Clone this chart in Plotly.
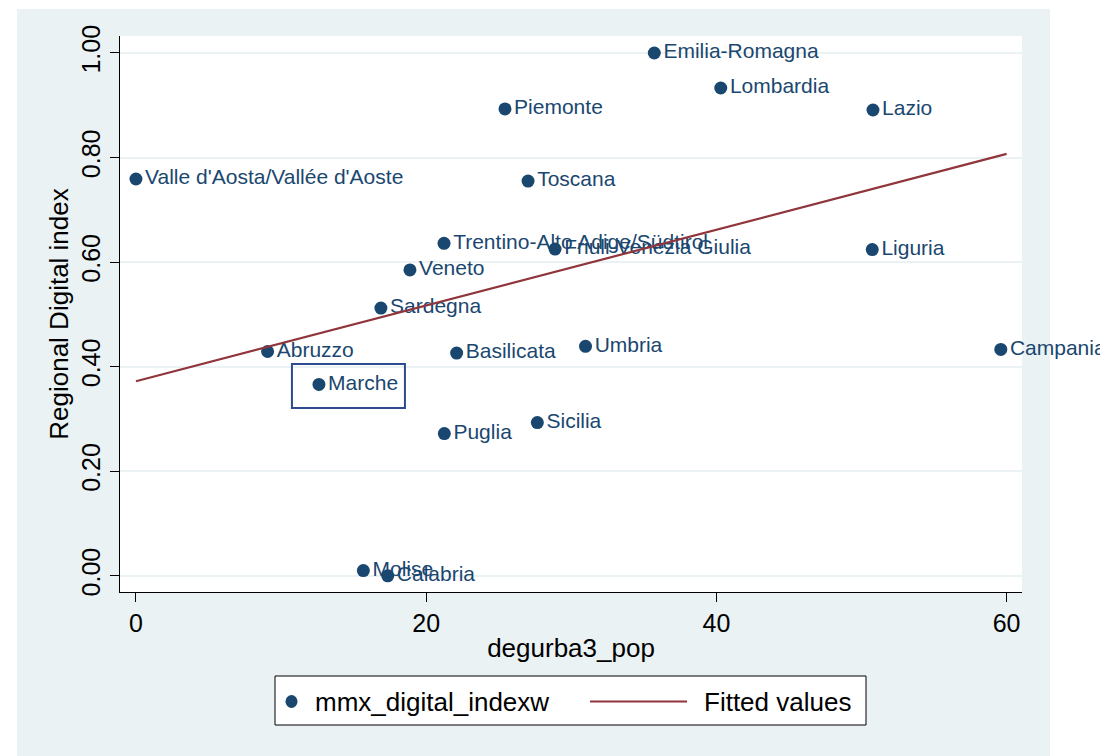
import plotly.graph_objects as go

# Regional data
regions = ["Valle d'Aosta/Vallée d'Aoste", "Abruzzo", "Marche", "Molise", "Calabria",
           "Sardegna", "Veneto", "Trentino-Alto Adige/Südtirol", "Puglia", "Basilicata",
           "Piemonte", "Toscana", "Sicilia", "Friuli-Venezia Giulia", "Umbria",
           "Emilia-Romagna", "Lombardia", "Lazio", "Liguria", "Campania"]
degurba3_pop = [0.0, 9.07, 12.61, 15.67, 17.35,
                16.88, 18.88, 21.23, 21.25, 22.10,
                25.43, 27.02, 27.66, 28.88, 30.98,
                35.72, 40.30, 50.79, 50.74, 59.60]
digital_index = [0.759, 0.429, 0.366, 0.010, 0.000,
                 0.512, 0.585, 0.636, 0.272, 0.426,
                 0.893, 0.755, 0.293, 0.625, 0.439,
                 1.000, 0.933, 0.891, 0.624, 0.433]

# Fitted line end points
fit_x = [0, 60]
fit_y = [0.372, 0.807]

x_ticks = [0, 20, 40, 60]
y_ticks = [0.0, 0.2, 0.4, 0.6, 0.8, 1.0]
highlight = "Marche"

NAVY = '#1a476f'
MAROON = '#90353b'
BG = '#eaf2f3'
FONT = 'Liberation Sans, Arial, sans-serif'

# page body has an 8px margin, so the figure is drawn 8px smaller
OFF = 8
W, H = 1108 - OFF, 756 - OFF
L, R, T, B = 120 - OFF, 1022 - OFF, 36 - OFF, 592 - OFF


# screen pixel -> paper coordinates
def px(x):
    return (x - OFF - L) / (R - L)


def py(y):
    return (B - (y - OFF)) / (B - T)


fig = go.Figure()
fig.add_trace(go.Scatter(x=degurba3_pop, y=digital_index, text=regions,
                         mode='markers+text', textposition='middle right',
                         marker=dict(color=NAVY, size=13),
                         textfont=dict(color=NAVY, size=21, family=FONT),
                         cliponaxis=False, showlegend=False, hoverinfo='skip'))
fig.add_trace(go.Scatter(x=fit_x, y=fit_y, mode='lines',
                         line=dict(color=MAROON, width=2.2), showlegend=False))

shapes = []
# white page margins outside Stata's graph region
for x0, y0, x1, y1 in [(0, 0, 17, 756), (0, 0, 1108, 9), (1050, 0, 1108, 756)]:
    shapes.append(dict(type='rect', xref='paper', yref='paper', layer='below',
                       x0=px(x0), x1=px(x1), y0=py(y1), y1=py(y0),
                       fillcolor='white', line_width=0))

# box around highlighted region
i = regions.index(highlight)
shapes.append(dict(type='rect', xref='x', yref='y', xsizemode='pixel', ysizemode='pixel',
                   xanchor=degurba3_pop[i], yanchor=digital_index[i],
                   x0=-27, x1=86, y0=-23.5, y1=20.5,
                   line=dict(color='#2d4b8e', width=2)))

# manual legend
shapes.append(dict(type='rect', xref='paper', yref='paper',
                   x0=px(275), x1=px(866), y0=py(725), y1=py(676),
                   fillcolor='white', line=dict(color='black', width=1)))
shapes.append(dict(type='circle', xref='paper', yref='paper', xsizemode='pixel', ysizemode='pixel',
                   xanchor=px(291.5), yanchor=py(701.5), x0=-6, x1=6, y0=-6.5, y1=6.5,
                   fillcolor=NAVY, line_width=0))
shapes.append(dict(type='line', xref='paper', yref='paper',
                   x0=px(590), x1=px(687), y0=py(701.5), y1=py(701.5),
                   line=dict(color=MAROON, width=2.2)))

annotations = [
    dict(text='mmx_digital_indexw', x=px(313), y=py(702), xref='paper', yref='paper',
         xanchor='left', yanchor='middle', showarrow=False,
         font=dict(size=26, color='black', family=FONT)),
    dict(text='Fitted values', x=px(702), y=py(702), xref='paper', yref='paper',
         xanchor='left', yanchor='middle', showarrow=False,
         font=dict(size=26, color='black', family=FONT)),
]

fig.update_layout(
    width=W, height=H,
    margin=dict(l=L, r=W - R, t=T, b=H - B, pad=0),
    paper_bgcolor=BG, plot_bgcolor='white',
    font=dict(family=FONT, color='black'),
    shapes=shapes, annotations=annotations,
    showlegend=False,
    xaxis=dict(range=[-1.1, 61.06], tickvals=x_ticks, showgrid=False, zeroline=False,
               showline=True, linecolor='black', linewidth=1,
               ticks='outside', ticklen=9, tickcolor='black', tickwidth=1,
               tickfont=dict(size=25),
               title=dict(text='degurba3_pop', font=dict(size=26), standoff=2)),
    yaxis=dict(range=[-0.031, 1.0325], tickvals=y_ticks, tickformat='.2f',
               tickangle=-90, showgrid=True, gridcolor=BG, gridwidth=2, zeroline=False,
               showline=True, linecolor='black', linewidth=1,
               ticks='outside', ticklen=9, tickcolor='black', tickwidth=1,
               tickfont=dict(size=25),
               title=dict(text='Regional Digital index', font=dict(size=26), standoff=0)),
)

fig.write_html("out.html")
